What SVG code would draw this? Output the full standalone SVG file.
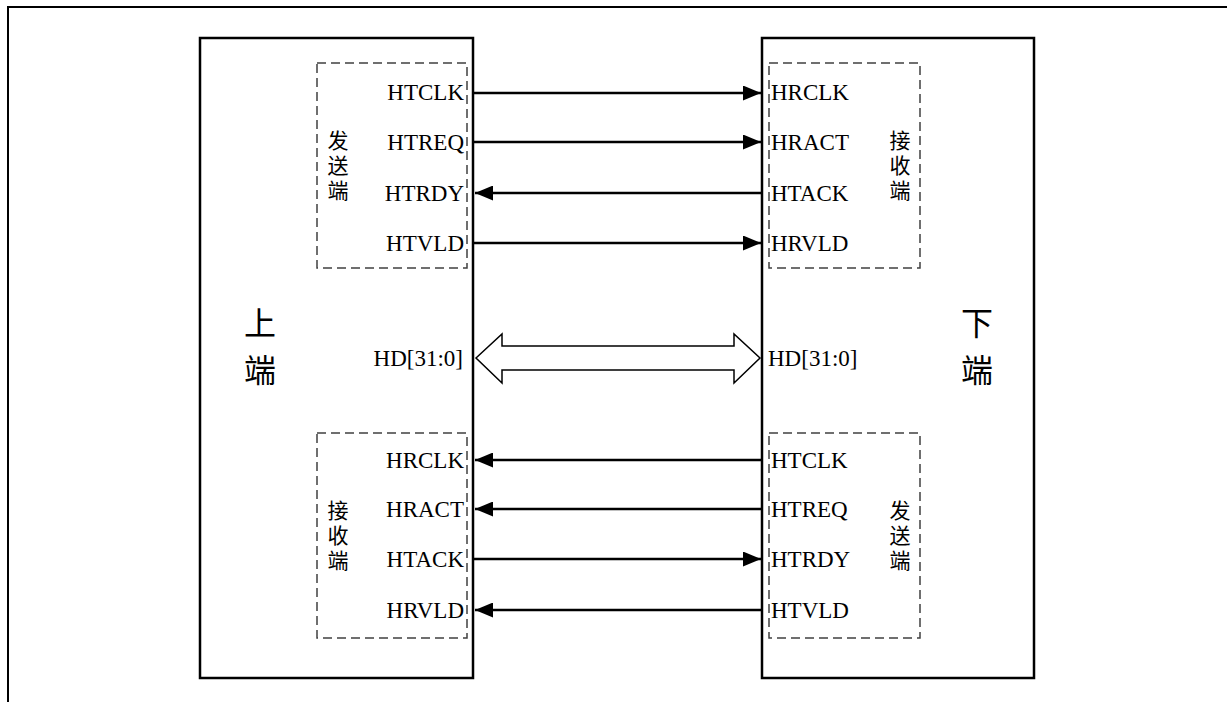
<svg xmlns="http://www.w3.org/2000/svg" width="1227" height="702" viewBox="0 0 1227 702">
<style>
.blk{fill:#fff;stroke:#000;stroke-width:2.5}
.dash{fill:none;stroke:#404040;stroke-width:1.5;stroke-dasharray:9,5}
.sig{font-family:"Liberation Serif","Times New Roman",serif;font-size:23px;fill:#000}
.cjk{font-family:"Noto Sans CJK SC","Noto Sans",sans-serif;font-size:21px;fill:#000;text-anchor:middle;writing-mode:vertical-rl;letter-spacing:4px}
.big{font-family:"Noto Sans CJK SC","Noto Sans",sans-serif;font-size:32px;fill:#000;text-anchor:middle}
.wire{stroke:#000;stroke-width:2.5;fill:none}
</style>
<defs>
<marker id="ah2" viewBox="0 0 18 15" refX="18" refY="7.5" markerWidth="18" markerHeight="15" orient="auto" markerUnits="userSpaceOnUse">
<path d="M0,0 L18,7.5 L0,15 Z" fill="#000"/>
</marker>
</defs>
<rect width="1227" height="702" fill="#fff"/>
<path d="M8,702 V7 H1227" fill="none" stroke="#000" stroke-width="2"/>

<g id="upper">
<rect class="blk" x="200" y="38" width="273" height="640"/>
<text class="big" x="260"><tspan x="260" y="335">上</tspan><tspan x="260" y="382">端</tspan></text>
<text class="sig" x="463" y="366" text-anchor="end">HD[31:0]</text>
</g>
<g id="lower">
<rect class="blk" x="762" y="38" width="272" height="640"/>
<text class="big" x="977"><tspan x="977" y="335">下</tspan><tspan x="977" y="382">端</tspan></text>
<text class="sig" x="768" y="366">HD[31:0]</text>
</g>

<g id="upper-send">
<rect class="dash" x="317" y="63" width="150" height="205"/>
<text class="cjk" x="338" y="167">发送端</text>
<text class="sig" x="464" y="100" text-anchor="end">HTCLK</text>
<text class="sig" x="464" y="150" text-anchor="end">HTREQ</text>
<text class="sig" x="464" y="201" text-anchor="end">HTRDY</text>
<text class="sig" x="464" y="251" text-anchor="end">HTVLD</text>
</g>
<g id="lower-recv">
<rect class="dash" x="769" y="63" width="151" height="205"/>
<text class="cjk" x="900" y="167">接收端</text>
<text class="sig" x="771" y="100">HRCLK</text>
<text class="sig" x="771" y="150">HRACT</text>
<text class="sig" x="771" y="201">HTACK</text>
<text class="sig" x="771" y="251">HRVLD</text>
</g>
<g id="upper-recv">
<rect class="dash" x="317" y="433" width="150" height="205"/>
<text class="cjk" x="338" y="537">接收端</text>
<text class="sig" x="464" y="468" text-anchor="end">HRCLK</text>
<text class="sig" x="464" y="517" text-anchor="end">HRACT</text>
<text class="sig" x="464" y="567" text-anchor="end">HTACK</text>
<text class="sig" x="464" y="618" text-anchor="end">HRVLD</text>
</g>
<g id="lower-send">
<rect class="dash" x="769" y="433" width="151" height="205"/>
<text class="cjk" x="900" y="537">发送端</text>
<text class="sig" x="771" y="468">HTCLK</text>
<text class="sig" x="771" y="517">HTREQ</text>
<text class="sig" x="771" y="567">HTRDY</text>
<text class="sig" x="771" y="618">HTVLD</text>
</g>

<g id="connectors">
<line class="wire" x1="474" y1="93" x2="761" y2="93" marker-end="url(#ah2)"/>
<line class="wire" x1="474" y1="142" x2="761" y2="142" marker-end="url(#ah2)"/>
<line class="wire" x1="762" y1="193" x2="475" y2="193" marker-end="url(#ah2)"/>
<line class="wire" x1="474" y1="243" x2="761" y2="243" marker-end="url(#ah2)"/>
<line class="wire" x1="762" y1="460" x2="475" y2="460" marker-end="url(#ah2)"/>
<line class="wire" x1="762" y1="509" x2="475" y2="509" marker-end="url(#ah2)"/>
<line class="wire" x1="474" y1="559" x2="761" y2="559" marker-end="url(#ah2)"/>
<line class="wire" x1="762" y1="610" x2="475" y2="610" marker-end="url(#ah2)"/>
<path d="M476,358 L502,334 V346 H734 V334 L760,358 L734,383 V370 H502 V383 Z" fill="#fff" stroke="#000" stroke-width="1.5"/>
</g>
</svg>
